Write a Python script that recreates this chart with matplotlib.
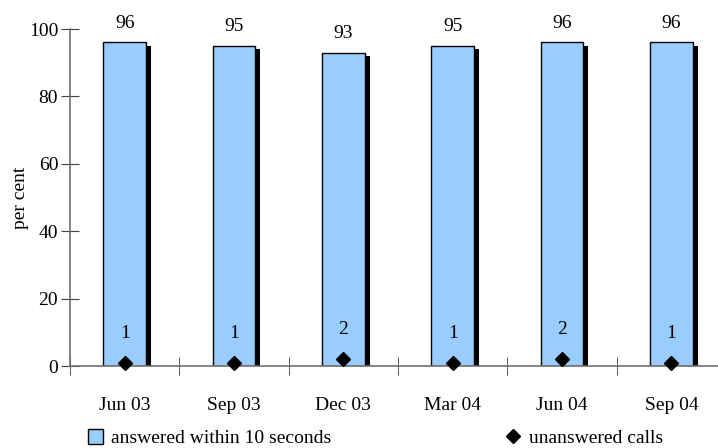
import numpy as np
import matplotlib.pyplot as plt
from matplotlib.lines import Line2D
from matplotlib.patches import Patch

# Data
quarters = ['Jun 03', 'Sep 03', 'Dec 03', 'Mar 04', 'Jun 04', 'Sep 04']
answered = [96, 95, 93, 95, 96, 96]
unanswered = [1, 1, 2, 1, 2, 1]

plt.rcParams['font.family'] = ['Liberation Serif', 'DejaVu Serif']
fs = 14

fig = plt.figure(figsize=(7.18, 4.48), dpi=100)
ax = fig.add_axes([70 / 718, 82 / 448, 656 / 718, 337 / 448])

x = np.arange(len(quarters))
width = 0.39

# black drop shadow behind each bar
ax.bar(x + 0.045, np.array(answered) - 0.9, width, color='black', zorder=1)
ax.bar(x, answered, width, color='#99ccff', edgecolor='black', linewidth=1, zorder=2)
ax.plot(x, unanswered, linestyle='none', marker='D', markersize=7,
        color='black', zorder=4, clip_on=False)

for xi, v in zip(x, answered):
    ax.text(xi, v + 3.2, str(v), ha='center', va='bottom', fontsize=fs)
for xi, v in zip(x, unanswered):
    ax.text(xi, v + 6.2, str(v), ha='center', va='bottom', fontsize=fs)

ax.set_xlim(-0.5, 5.5)
ax.set_ylim(0, 100)
ax.set_yticks([0, 20, 40, 60, 80, 100])
ax.set_xticks(x)
ax.set_xticklabels(quarters)
ax.set_xticks(np.arange(-0.5, 5.6, 1), minor=True)
ax.tick_params(axis='x', which='major', length=0, pad=22, labelsize=fs)
ax.tick_params(axis='x', which='minor', length=13, direction='inout', color='#404040')
ax.tick_params(axis='y', length=13, direction='inout', color='#404040', labelsize=fs, pad=2)

for s in ['top', 'right']:
    ax.spines[s].set_visible(False)
for s in ['left', 'bottom']:
    ax.spines[s].set_color('#707070')
    ax.spines[s].set_linewidth(1.2)

ax.set_ylabel('per cent', fontsize=fs, labelpad=0)

handles = [Patch(facecolor='#99ccff', edgecolor='black', linewidth=1),
           Line2D([], [], linestyle='none', marker='D', markersize=7, color='black')]
fig.legend(handles[:1], ['answered within 10 seconds'], loc='center left',
           bbox_to_anchor=(80 / 718, 1 - 438 / 448), frameon=False, fontsize=fs,
           handlelength=0.8, handleheight=0.8, handletextpad=0.4, borderaxespad=0)
fig.legend(handles[1:], ['unanswered calls'], loc='center left',
           bbox_to_anchor=(494 / 718, 1 - 438 / 448), frameon=False, fontsize=fs,
           handlelength=1.2, handletextpad=0.2, borderaxespad=0)

fig.savefig('out.png', dpi=100)
